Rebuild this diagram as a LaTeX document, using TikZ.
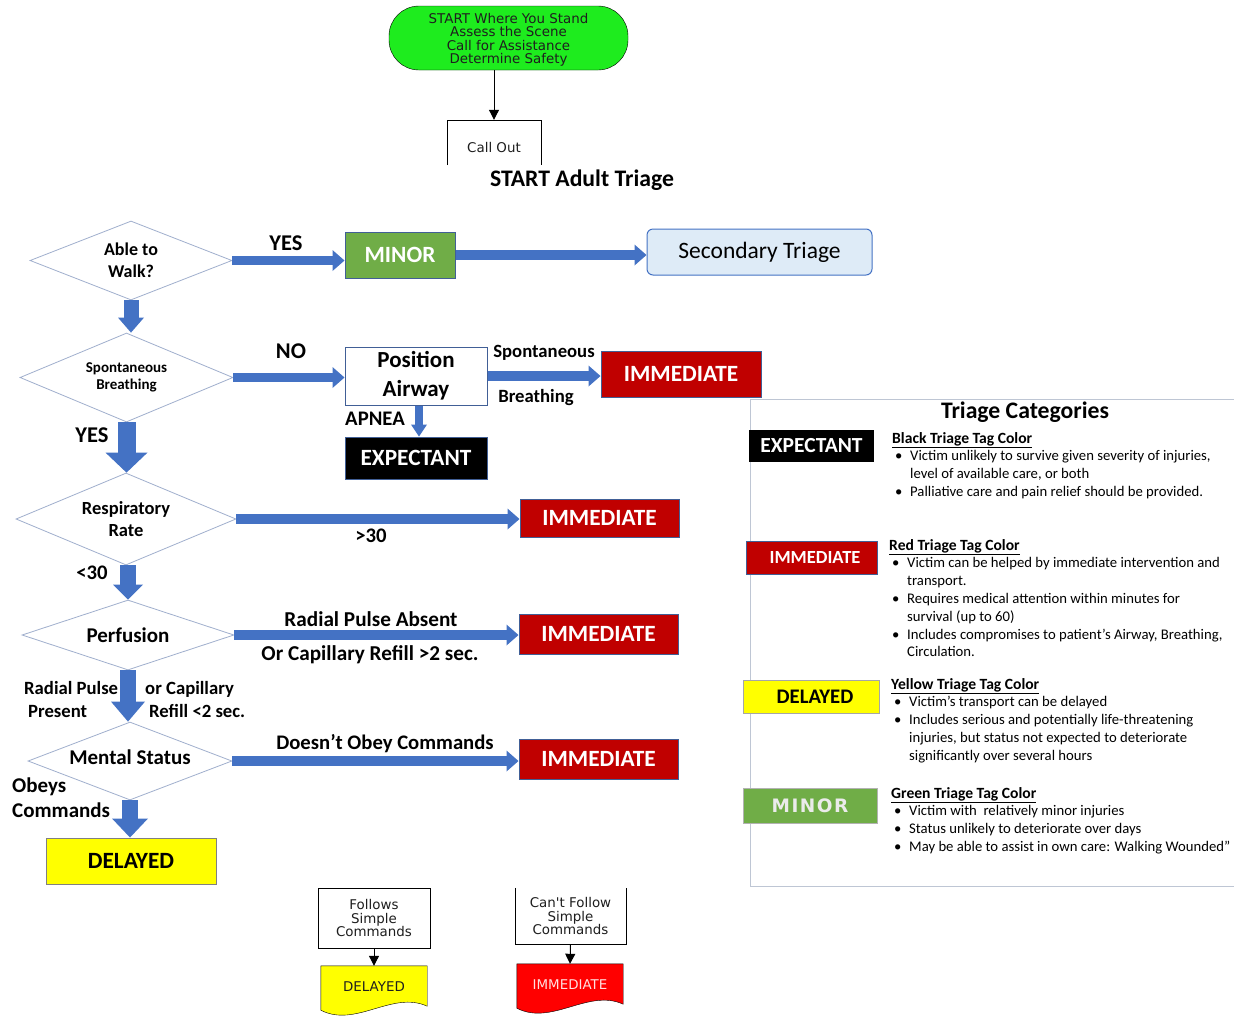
\documentclass[tikz,border=0pt]{standalone}
\usepackage{fontspec}
\setmainfont{Carlito}
\newfontfamily\visiofont{DejaVu Sans}[Ligatures=TeXOff]
\usetikzlibrary{shapes,arrows.meta,calc,backgrounds}
\definecolor{startgreen}{RGB}{30,236,30}
\definecolor{minorgreen}{RGB}{112,173,71}
\definecolor{immred}{RGB}{192,0,0}
\definecolor{delyellow}{RGB}{255,255,0}
\definecolor{docred}{RGB}{255,0,0}
\definecolor{flowblue}{RGB}{68,114,196}
\definecolor{boxedge}{RGB}{65,95,150}
\definecolor{secfill}{RGB}{222,235,247}
\definecolor{diaedge}{RGB}{160,175,205}
\definecolor{panelgray}{RGB}{190,198,212}
\definecolor{visiotext}{RGB}{30,30,30}
\newcommand{\fsz}[2]{\fontsize{#1}{#2}\selectfont}

\begin{document}
\begin{tikzpicture}[x=1pt,y=-1pt,
    decision/.style={diamond,draw=diaedge,line width=0.8pt,inner sep=0pt,shape aspect=2.4,align=center},
    tagbox/.style={rectangle,draw=boxedge,line width=1pt,inner sep=0pt,text=white,font=\fsz{23.3}{28}\bfseries},
    lbl/.style={inner sep=0pt,align=left},
    visio/.style={inner sep=0pt,align=center,text=visiotext,font=\visiofont\fsz{13.4}{13.5}},
    badge/.style={rectangle,inner sep=0pt},
    catinfo/.style={anchor=north west,inner sep=0pt,font=\fsz{14.7}{17.8}},
    harrow/.style={draw=flowblue,line width=9.5pt,-{Triangle[length=12pt,width=21pt,line width=0pt]}},
    varrow/.style n args={3}{draw=flowblue,line width=#1,-{Triangle[length=#2,width=#3,line width=0pt]}},
    thinarrow/.style={draw=black,line width=1pt,-{Triangle[length=10pt,width=10pt]}}]

\begin{pgfonlayer}{background}
\fill[white] (0,0) rectangle (1234,1021);
\end{pgfonlayer}
\useasboundingbox (0,0) rectangle (1234,1021);

% top of the flow
\node[visio,draw=black,fill=startgreen,rounded corners=30pt,minimum width=239,minimum height=64] (start) at (508.5,38) {\raisebox{-5.5pt}[0pt][0pt]{\parbox{230pt}{\centering START Where You Stand\\Assess the Scene\\Call for Assistance\\Determine Safety}}};
\node[visio,minimum width=94,minimum height=45] (callout) at (494,142.5) {\raisebox{-9.5pt}[0pt][0pt]{Call Out}};
\draw (callout.south west) -- (callout.north west) -- (callout.north east) -- (callout.south east);
\draw[thinarrow] (start.south -| callout.north) -- (callout.north);
\node[lbl,font=\fsz{23.7}{28}\bfseries] (title) at (582,180) {START Adult Triage};

% decisions
\node[decision,minimum width=202,minimum height=79,font=\fsz{18}{22}\bfseries] (walk) at (131,260.5) {Able to\\Walk?};
\node[decision,minimum width=213,minimum height=89,font=\fsz{15}{17}\bfseries] (breath) at (126.5,377.5) {Spontaneous\\Breathing};
\node[decision,minimum width=220,minimum height=92,font=\fsz{18.5}{22}\bfseries] (resp) at (126,519) {Respiratory\\Rate};
\node[decision,minimum width=212,minimum height=70,font=\fsz{21}{25}\bfseries] (perf) at (128,635) {Perfusion};
\node[decision,minimum width=204,minimum height=78,font=\fsz{21}{25}\bfseries] (mental) at (130,761) {\raisebox{-3pt}[0pt][0pt]{Mental Status}};

% outcomes
\node[tagbox,fill=minorgreen,minimum width=110,minimum height=46] (minor) at (400,255) {MINOR};
\node[rectangle,draw=flowblue,fill=secfill,rounded corners=6pt,line width=1pt,minimum width=225,minimum height=46,font=\fsz{23.5}{28}] (sectri) at (759.5,252) {Secondary Triage};
\node[tagbox,fill=white,text=black,align=center,minimum width=142,minimum height=58,font=\fsz{23}{29}\bfseries] (posair) at (416,376) {Position\\Airway};
\node[tagbox,fill=immred,minimum width=160,minimum height=46] (imm1) at (681,374) {IMMEDIATE};
\node[tagbox,fill=black,minimum width=142,minimum height=42] (expect) at (416,458) {EXPECTANT};
\node[tagbox,fill=immred,minimum width=159,minimum height=38] (imm2) at (599.5,518) {IMMEDIATE};
\node[tagbox,fill=immred,minimum width=159,minimum height=40] (imm3) at (598.5,634) {IMMEDIATE};
\node[tagbox,fill=immred,minimum width=159,minimum height=40] (imm4) at (598.5,759) {IMMEDIATE};
\node[tagbox,fill=delyellow,draw=gray,text=black,minimum width=170,minimum height=46] (delayed) at (131,861) {DELAYED};

% block arrows
\draw[harrow] (walk.east) -- (walk.east -| minor.west);
\draw[harrow] (minor.east) -- (minor.east -| sectri.west);
\draw[harrow] (breath.east) -- (breath.east -| posair.west);
\draw[harrow] (posair.east) -- (posair.east -| imm1.west);
\draw[harrow] (resp.east) -- (resp.east -| imm2.west);
\draw[harrow] (perf.east) -- (perf.east -| imm3.west);
\draw[harrow] (mental.east) -- (mental.east -| imm4.west);
\draw[varrow={15pt}{15pt}{26pt}] (walk.south) -- (walk.south |- breath.north);
\draw[varrow={18pt}{20pt}{42pt}] (breath.south) -- (breath.south |- resp.north);
\draw[varrow={16pt}{15pt}{30pt}] ([xshift=2pt]resp.south) -- ([xshift=2pt]resp.south |- perf.north);
\draw[varrow={16pt}{20pt}{34pt}] (perf.south) -- (perf.south |- mental.north);
\draw[varrow={16pt}{19pt}{36pt}] (mental.south) -- (mental.south |- delayed.north);
\draw[varrow={8pt}{12pt}{16pt}] ([xshift=3pt]posair.south) -- ([xshift=3pt]expect.north);

% arrow labels
\node[lbl,font=\fsz{22.5}{26}\bfseries] (yeswalk) at (286,243) {YES};
\node[lbl,font=\fsz{22.5}{26}\bfseries] (nobreath) at (291,351) {NO};
\node[lbl,font=\fsz{22.5}{26}\bfseries] (yesbreath) at (92,435) {YES};
\node[lbl,font=\fsz{18.7}{22}\bfseries] (spont) at (544,353) {Spontaneous};
\node[lbl,font=\fsz{18.7}{22}\bfseries] (breathing) at (536,398) {Breathing};
\node[lbl,font=\fsz{20.7}{24}\bfseries] (apnea) at (375,419) {APNEA};
\node[lbl,font=\fsz{20.7}{24}\bfseries] (over30) at (371,536) {>30};
\node[lbl,font=\fsz{20.7}{24}\bfseries] (under30) at (92,573) {<30};
\node[lbl,font=\fsz{21.2}{25}\bfseries] (pulseabs) at (371,619) {Radial Pulse Absent};
\node[lbl,font=\fsz{21.2}{25}\bfseries] (refillgt) at (370,655) {Or Capillary Refill >2 sec.};
\node[lbl,anchor=west,font=\fsz{18.7}{23}\bfseries] (pulsepres) at (24,699.5) {Radial Pulse\\\hspace*{4pt}Present};
\node[lbl,anchor=west,font=\fsz{18.7}{23}\bfseries] (refilllt) at (145,699) {or Capillary\\\hspace*{4pt}Refill <2 sec.};
\node[lbl,font=\fsz{20.7}{24}\bfseries] (noobey) at (385,744) {Doesn’t Obey Commands};
\node[lbl,anchor=west,font=\fsz{21}{25}\bfseries] (obeys) at (12,797.5) {Obeys\\Commands};

% triage categories panel
\draw[draw=panelgray] (1234,399) -- (750,399) -- (750,886) -- (1234,886);
\node[lbl,font=\fsz{23.7}{28}\bfseries] (cattitle) at (1025,412) {Triage Categories};
\node[badge,fill=black,text=white,minimum width=125,minimum height=32,font=\fsz{21.5}{24}\bfseries] (expbadge) at (811.5,446) {EXPECTANT};
\node[badge,fill=immred,draw=boxedge,text=white,minimum width=131,minimum height=33,font=\fsz{18.5}{22}\bfseries] (immbadge) at (811.5,557.5) {\hspace*{7pt}IMMEDIATE};
\node[badge,fill=delyellow,draw=gray!70,minimum width=136,minimum height=33,font=\fsz{20.7}{24}\bfseries] (delbadge) at (811,696.5) {\hspace*{8pt}DELAYED};
\node[badge,fill=minorgreen,draw=gray!60,text=white!92!black,minimum width=134,minimum height=35,font=\visiofont\fsz{18.5}{22}\bfseries\addfontfeature{LetterSpace=8}] (minbadge) at (810,805.5) {MINOR};

\node[catinfo] (blackinfo) at (892,430.5) {\begin{tabular}{@{}p{18pt}@{}l@{}}
\multicolumn{2}{@{}l@{}}{\fsz{15.6}{17.8}\bfseries\underline{Black Triage Tag Color}}\\
\hspace*{3pt}\textbullet & Victim unlikely to survive given severity of injuries,\\
 & level of available care, or both\\
\hspace*{3pt}\textbullet & Palliative care and pain relief should be provided.
\end{tabular}};
\node[catinfo] (redinfo) at (889,537.5) {\begin{tabular}{@{}p{18pt}@{}l@{}}
\multicolumn{2}{@{}l@{}}{\fsz{15.6}{17.8}\bfseries\underline{Red Triage Tag Color}}\\
\hspace*{3pt}\textbullet & Victim can be helped by immediate intervention and\\
 & transport.\\
\hspace*{3pt}\textbullet & Requires medical attention within minutes for\\
 & survival (up to 60)\\
\hspace*{3pt}\textbullet & Includes compromises to patient’s Airway, Breathing,\\
 & Circulation.
\end{tabular}};
\node[catinfo] (yellowinfo) at (891,676.5) {\begin{tabular}{@{}p{18pt}@{}l@{}}
\multicolumn{2}{@{}l@{}}{\fsz{15.6}{17.8}\bfseries\underline{Yellow Triage Tag Color}}\\
\hspace*{3pt}\textbullet & Victim’s transport can be delayed\\
\hspace*{3pt}\textbullet & Includes serious and potentially life-threatening\\
 & injuries, but status not expected to deteriorate\\
 & significantly over several hours
\end{tabular}};
\node[catinfo] (greeninfo) at (891,785.5) {\begin{tabular}{@{}p{18pt}@{}l@{}}
\multicolumn{2}{@{}l@{}}{\fsz{15.6}{17.8}\bfseries\underline{Green Triage Tag Color}}\\
\hspace*{3pt}\textbullet & Victim with\ \ relatively minor injuries\\
\hspace*{3pt}\textbullet & Status unlikely to deteriorate over days\\
\hspace*{3pt}\textbullet & May be able to assist in own care: Walking Wounded”
\end{tabular}};

% mental status detail at the bottom
\node[visio,draw=black,fill=white,minimum width=112,minimum height=60] (follow) at (374,918) {Follows\\Simple\\Commands};
\node[visio,minimum width=106,minimum height=42] (deldoc) at (374,987) {DELAYED};
\node[visio,minimum width=111,minimum height=56] (cantfollow) at (570.5,916) {Can't Follow\\Simple\\Commands};
\draw (cantfollow.north west) -- (cantfollow.south west) -- (cantfollow.south east) -- (cantfollow.north east);
\node[visio,text=white!88!red,minimum width=106,minimum height=42] (immdoc) at (570,985) {IMMEDIATE};
\begin{pgfonlayer}{background}
\filldraw[fill=delyellow,draw=black] (deldoc.north west) -- (deldoc.north east) -- ($(deldoc.south east)+(0,-2)$) .. controls +(-35,-16) and +(35,18) .. ($(deldoc.south west)+(0,2)$) -- cycle;
\filldraw[fill=docred,draw=black] (immdoc.north west) -- (immdoc.north east) -- ($(immdoc.south east)+(0,-2)$) .. controls +(-35,-16) and +(35,18) .. ($(immdoc.south west)+(0,2)$) -- cycle;
\end{pgfonlayer}
\draw[thinarrow] (follow.south) -- (deldoc.north);
\draw[thinarrow] (cantfollow.south) -- (immdoc.north);
\end{tikzpicture}
\end{document}
